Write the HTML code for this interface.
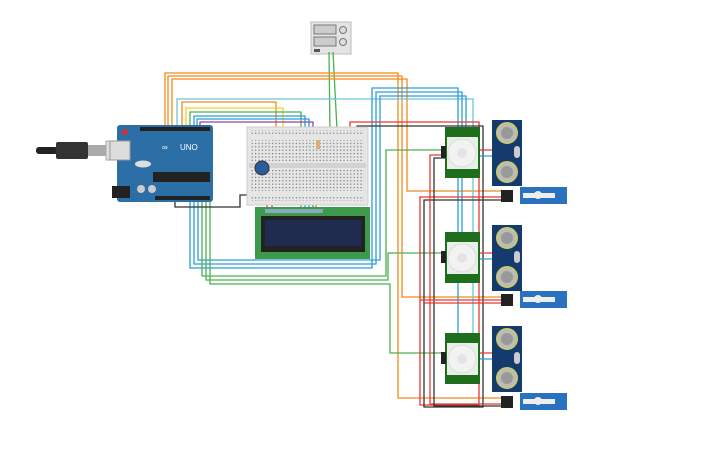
<!DOCTYPE html>
<html><head><style>body{margin:0;background:#fff}svg{display:block}</style></head><body>
<svg width="725" height="453" viewBox="0 0 725 453" xmlns="http://www.w3.org/2000/svg" font-family="Liberation Sans, sans-serif">
<rect width="725" height="453" fill="#fff"/>
<!-- power supply -->
<rect x="311" y="22" width="40" height="32" fill="#e4e4e4" stroke="#bbb"/>
<rect x="314" y="25" width="22" height="9" fill="#ccc" stroke="#777"/>
<rect x="314" y="37" width="22" height="9" fill="#ccc" stroke="#777"/>
<circle cx="343" cy="30" r="3.5" fill="#ddd" stroke="#777"/>
<circle cx="343" cy="42" r="3.5" fill="#ddd" stroke="#777"/>
<rect x="314" y="49" width="6" height="3" fill="#555"/>
<g fill="none" stroke-width="1.3">
<!-- green from power -->
<path d="M329 52 L330 130 M333 52 L337 130" stroke="#4caf50"/>
<!-- orange -->
<path d="M165 128 V73 H398 V398 H502" stroke="#f08a1c"/>
<path d="M168 128 V76 H402 V297 H502" stroke="#f08a1c"/>
<path d="M172 128 V79 H407 V191 H502" stroke="#f08a1c"/>
<path d="M182 128 V102 H276 V205" stroke="#f08a1c"/>
<!-- light blue -->
<path d="M177 128 V99 H473 V380" stroke="#6cc4dc"/>
<!-- yellow -->
<path d="M186 128 V108 H283 V205" stroke="#f2d21c"/>
<!-- green to lcd -->
<path d="M190 128 V112 H301 V208" stroke="#4caf50"/>
<!-- blue to lcd -->
<path d="M194 128 V116 H305 V208 M197 128 V119 H309 V208" stroke="#2a9fd6"/>
<path d="M200 128 V122 H313 V208" stroke="#8e44ad"/>
<path d="M316 160 V208" stroke="#a0784a"/>
<!-- blue to PIRs -->
<path d="M190 202 V268 H372 V88 H458 V333" stroke="#2a9fd6"/>
<path d="M194 202 V264 H376 V92 H462 V232" stroke="#2a9fd6"/>
<path d="M198 202 V260 H380 V96 H466 V127" stroke="#2a9fd6"/>
<!-- green to PIRs -->
<path d="M202 202 V276 H386 V150 H445" stroke="#4caf50"/>
<path d="M206 202 V280 H388 V253 H445" stroke="#4caf50"/>
<path d="M210 202 V284 H390 V353 H445" stroke="#4caf50"/>
<!-- black gnd -->
<path d="M175 202 V207 H240 V195 H250" stroke="#333"/>
<!-- red/black to PIR column -->
<path d="M350 130 V122 H479 V405 H420 V197 H502" stroke="#e53935"/>
<path d="M357 130 V126 H483 V407 H424 V200 H502" stroke="#333"/>
<path d="M445 155 H430 V404 H502" stroke="#e53935"/>
<path d="M445 158 H434 V406 H502" stroke="#333"/>
<path d="M420 300 H502 M424 303 H502" stroke="#e53935"/>
<path d="M480 150 H492 M480 253 H492 M480 353 H492" stroke="#e53935"/>
<path d="M480 156 H492 M480 259 H492 M480 359 H492" stroke="#2a9fd6"/>
<path d="M355 135 V200 M360 135 V200" stroke="#333"/>
<path d="M267 185 V215 M272 185 V215" stroke="#e91e8c"/>
</g>
<!-- USB -->
<rect x="36" y="147" width="22" height="7" rx="3" fill="#222"/>
<rect x="56" y="142" width="32" height="17" rx="2" fill="#333"/>
<rect x="88" y="145" width="18" height="11" fill="#aaa"/>
<rect x="106" y="141" width="22" height="19" fill="#ddd" stroke="#aaa"/>
<!-- Arduino -->
<rect x="117" y="125" width="96" height="77" rx="3" fill="#2c6fa6"/>
<rect x="140" y="127" width="70" height="4" fill="#222"/>
<rect x="155" y="196" width="55" height="4" fill="#222"/>
<rect x="153" y="172" width="57" height="10" fill="#222"/>
<rect x="112" y="186" width="18" height="12" fill="#222"/>
<rect x="110" y="141" width="20" height="19" fill="#ddd" stroke="#999"/>
<circle cx="125" cy="132" r="3" fill="#c33"/>
<ellipse cx="143" cy="164" rx="8" ry="3.5" fill="#ddd"/>
<circle cx="141" cy="189" r="4" fill="#ccc"/><circle cx="152" cy="189" r="4" fill="#ccc"/>
<text x="180" y="150" font-size="8" fill="#fff">UNO</text>
<text x="162" y="150" font-size="8" fill="#fff">∞</text>
<!-- Breadboard -->
<rect x="247" y="127" width="121" height="78" fill="#e6e6e6" stroke="#ccc"/>
<rect x="249" y="163" width="117" height="5" fill="#d2d2d2"/>
<g fill="#888">
<pattern id="h" width="3.4" height="3.4" patternUnits="userSpaceOnUse"><rect width="1.2" height="1.2" fill="#777"/></pattern>
</g>
<rect x="251" y="130" width="113" height="5" fill="url(#h)"/>
<rect x="251" y="140" width="113" height="21" fill="url(#h)"/>
<rect x="251" y="170" width="113" height="21" fill="url(#h)"/>
<rect x="251" y="196" width="113" height="5" fill="url(#h)"/>
<circle cx="262" cy="168" r="7" fill="#2a5c9c" stroke="#333"/>
<rect x="316" y="140" width="4" height="9" fill="#d8b070"/>
<!-- LCD -->
<rect x="255" y="207" width="115" height="52" fill="#3c9a4a"/>
<rect x="261" y="216" width="104" height="36" fill="#222"/>
<rect x="265" y="220" width="96" height="26" fill="#1f2c50"/>
<rect x="265" y="209" width="58" height="4" fill="#8ab"/>
<!-- PIR sensors -->
<g id="pir">
<rect x="445" y="127" width="35" height="51" fill="#1e6e1e"/>
<rect x="447" y="137" width="31" height="32" fill="#e6f0e6"/>
<circle cx="462" cy="153" r="14" fill="#f2f2f2" stroke="#ddd"/>
<circle cx="462" cy="153" r="5" fill="#e4e4e4"/>
<rect x="441" y="146" width="5" height="12" fill="#222"/>
</g>
<use href="#pir" y="105"/><use href="#pir" y="206"/>
<!-- Ultrasonic -->
<g id="us">
<rect x="492" y="120" width="30" height="66" fill="#153a6e"/>
<circle cx="507" cy="133" r="10" fill="#bbb" stroke="#c8c870" stroke-width="2"/>
<circle cx="507" cy="133" r="6" fill="#999"/>
<circle cx="507" cy="172" r="10" fill="#bbb" stroke="#c8c870" stroke-width="2"/>
<circle cx="507" cy="172" r="6" fill="#999"/>
<rect x="514" y="146" width="6" height="12" rx="3" fill="#ccc"/>
</g>
<use href="#us" y="105"/><use href="#us" y="206"/>
<!-- Servos -->
<g id="sv">
<rect x="501" y="190" width="12" height="12" fill="#222"/>
<rect x="520" y="187" width="47" height="17" fill="#2a72c0"/>
<rect x="523" y="193" width="32" height="5" fill="#eee"/>
<circle cx="538" cy="195" r="4" fill="#eee"/>
</g>
<use href="#sv" y="104"/><use href="#sv" y="206"/>
</svg>
</body></html>
